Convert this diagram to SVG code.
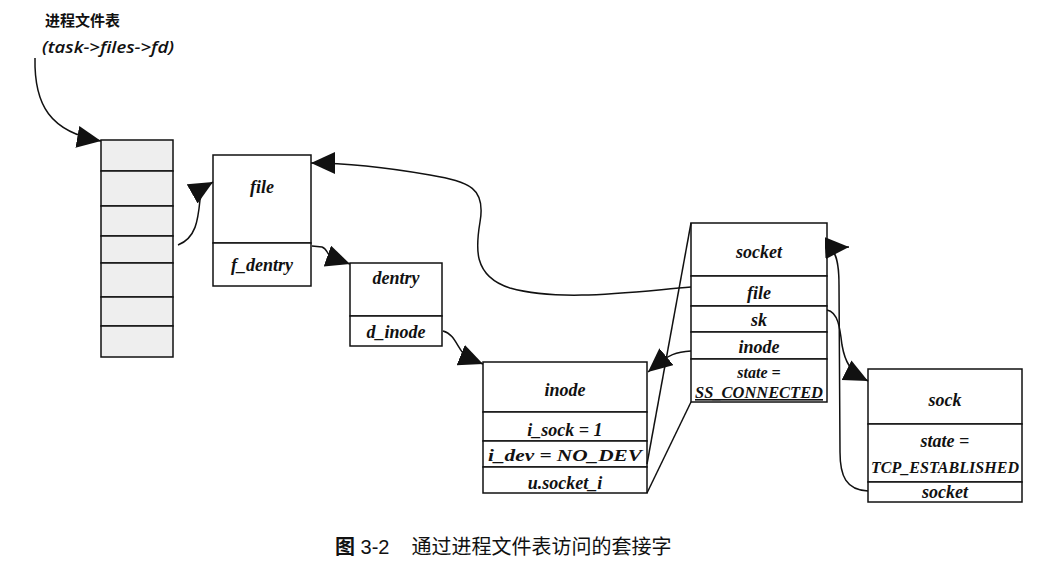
<svg xmlns="http://www.w3.org/2000/svg" width="1041" height="567" viewBox="0 0 1041 567">
<style>
.box{fill:#fff;stroke:#111;stroke-width:1.5}
.fd{fill:#eeeeee;stroke:#111;stroke-width:1.5}
.ln{fill:none;stroke:#111;stroke-width:1.5}
.t{font-family:"Liberation Serif",serif;font-style:italic;font-weight:bold;font-size:18px;fill:#111;text-anchor:middle}
.cap{font-family:"Liberation Sans","Noto Sans CJK SC",sans-serif;font-size:20px;fill:#111}
</style>
<defs>
<marker id="ah" markerUnits="userSpaceOnUse" markerWidth="26" markerHeight="24" refX="24" refY="11" orient="auto">
<path d="M0,0 L24,11 L0,22 Z" fill="#111"/>
</marker>
</defs>
<rect width="1041" height="567" fill="#fff"/>
<text x="45" y="26" style="font-family:'Noto Sans CJK SC',sans-serif;font-size:15px;font-weight:bold;fill:#111">进程文件表</text>
<text x="42" y="53" textLength="132" lengthAdjust="spacingAndGlyphs" style="font-family:'Open Sans','Liberation Sans',sans-serif;font-size:16px;font-style:italic;font-weight:600;fill:#111">(task-&gt;files-&gt;fd)</text>

<g id="fdtable">
<rect class="fd" x="101" y="140" width="72" height="31"/>
<rect class="fd" x="101" y="171" width="72" height="35"/>
<rect class="fd" x="101" y="206" width="72" height="30"/>
<rect class="fd" x="101" y="236" width="72" height="27"/>
<rect class="fd" x="101" y="263" width="72" height="34"/>
<rect class="fd" x="101" y="297" width="72" height="29"/>
<rect class="fd" x="101" y="326" width="72" height="31"/>
</g>

<g id="file">
<rect class="box" x="213" y="155" width="98" height="88"/>
<rect class="box" x="213" y="243" width="98" height="43"/>
<text class="t" x="262" y="193">file</text>
<text class="t" x="262" y="271">f_dentry</text>
</g>

<g id="dentry">
<rect class="box" x="350" y="263" width="92" height="53"/>
<rect class="box" x="350" y="316" width="92" height="30"/>
<text class="t" x="396" y="284">dentry</text>
<text class="t" x="396" y="338">d_inode</text>
</g>

<g id="inode">
<rect class="box" x="483" y="362" width="164" height="50"/>
<rect class="box" x="483" y="412" width="164" height="29"/>
<rect class="box" x="483" y="441" width="164" height="26"/>
<rect class="box" x="483" y="467" width="164" height="26"/>
<text class="t" x="565" y="396">inode</text>
<text class="t" x="565" y="436">i_sock = 1</text>
<text class="t" x="565" y="461" style="font-size:17px" textLength="154" lengthAdjust="spacingAndGlyphs">i_dev = NO_DEV</text>
<text class="t" x="565" y="489">u.socket_i</text>
</g>

<g id="socket">
<rect class="box" x="691" y="223" width="136" height="53"/>
<rect class="box" x="691" y="276" width="136" height="30"/>
<rect class="box" x="691" y="306" width="136" height="26"/>
<rect class="box" x="691" y="332" width="136" height="27"/>
<rect class="box" x="691" y="359" width="136" height="43"/>
<text class="t" x="759" y="258">socket</text>
<text class="t" x="759" y="299">file</text>
<text class="t" x="759" y="326">sk</text>
<text class="t" x="759" y="353">inode</text>
<text class="t" x="759" y="378" style="font-size:16px">state =</text>
<text class="t" x="759" y="398" style="font-size:16px" textLength="128" lengthAdjust="spacingAndGlyphs" text-decoration="underline">SS_CONNECTED</text>
</g>

<g id="sock">
<rect class="box" x="868" y="369" width="154" height="55"/>
<rect class="box" x="868" y="424" width="154" height="58"/>
<rect class="box" x="868" y="482" width="154" height="20"/>
<text class="t" x="945" y="406">sock</text>
<text class="t" x="945" y="447">state =</text>
<text class="t" x="945" y="473" style="font-size:17px" textLength="148" lengthAdjust="spacingAndGlyphs">TCP_ESTABLISHED</text>
<text class="t" x="945" y="498">socket</text>
</g>

<g id="connectors">
<path class="ln" d="M35,58 C34,105 50,132 101,141" marker-end="url(#ah)"/>
<path class="ln" d="M178,245 C196,238 198,220 200,200 C202,190 206,186 213,182" marker-end="url(#ah)"/>
<path class="ln" d="M312,246 L322,247 C328,249 327,256 333,258 L350,264" marker-end="url(#ah)"/>
<path class="ln" d="M443,331 C456,334 458,352 468,358 L483,364" marker-end="url(#ah)"/>
<path class="ln" d="M691,287 C630,292 560,302 510,288 C472,276 476,246 480,222 C486,188 470,182 430,175 C390,168 350,163 311,163" marker-end="url(#ah)"/>
<path class="ln" d="M691,351 C675,352 668,356 660,362 L648,372" marker-end="url(#ah)"/>
<path class="ln" d="M827,310 C838,312 840,328 842,345 C845,362 850,372 868,381" marker-end="url(#ah)"/>
<path class="ln" d="M868,491 C846,490 840,476 840,452 L839,285 C839,262 836,250 828,248 L849,247" marker-end="url(#ah)"/>
<path class="ln" d="M691,223 L647,464"/>
<path class="ln" d="M691,402 L647,493"/>
</g>

<text class="cap" x="335" y="554"><tspan font-weight="bold">图</tspan> 3-2<tspan dx="22">通过进程文件表访问的套接字</tspan></text>
</svg>
